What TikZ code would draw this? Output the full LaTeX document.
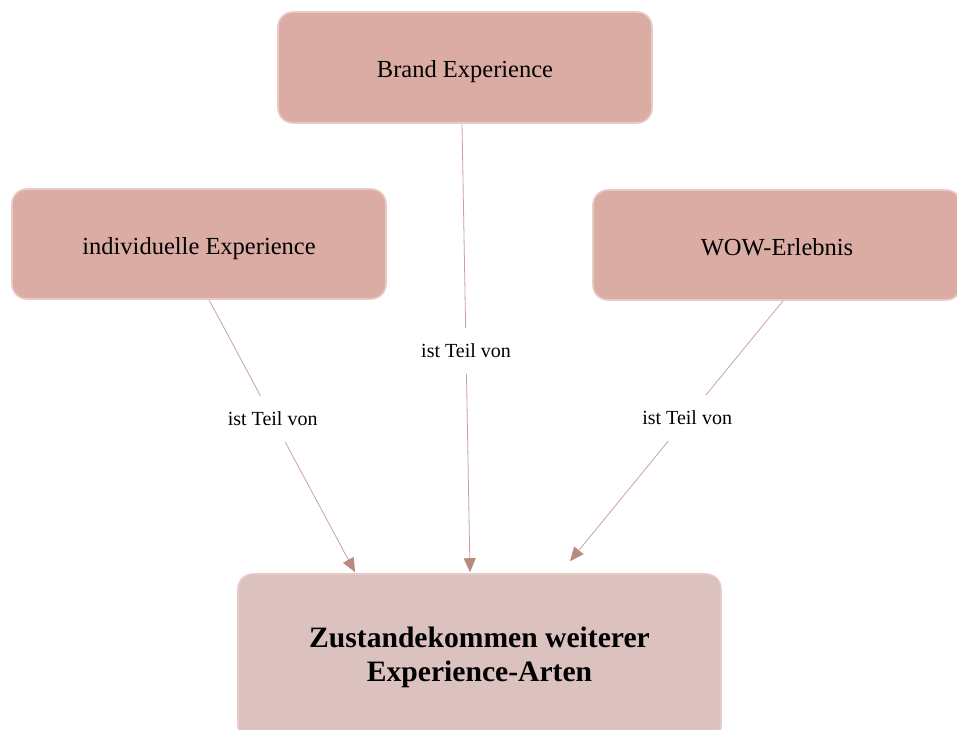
\documentclass[tikz,border=0pt]{standalone}
\usepackage{fontspec}
\setmainfont{Liberation Serif}
\usetikzlibrary{arrows.meta,positioning,calc}

\definecolor{boxfill}{HTML}{DBACA3}
\definecolor{resfill}{HTML}{DBC2BE}
\definecolor{boxedge}{HTML}{E6CBC6}
\definecolor{linkcol}{HTML}{C9A29B}
\definecolor{tipcol}{HTML}{B98A80}

\tikzset{
  concept/.style={draw=boxedge, line width=1.6pt, fill=boxfill, rounded corners=15pt,
    inner sep=0pt, align=center, text height=21pt, text depth=1pt,
    font=\fontsize{24.5}{29}\selectfont},
  result/.style={draw=boxedge, line width=1.6pt, fill=resfill, rounded corners=15pt,
    inner sep=0pt, align=center,
    font=\fontsize{29.6}{34}\selectfont\bfseries},
  link/.style={draw=linkcol, line width=0.8pt,
    -{Triangle[length=14pt,width=12pt,color=tipcol]}},
  linklabel/.style={fill=white, inner xsep=4pt, inner ysep=16pt,
    font=\fontsize{20}{24}\selectfont}
}

\begin{document}
\begin{tikzpicture}[x=1pt,y=-1pt]
  \useasboundingbox (0,0) rectangle (957,729);
  \clip (0,0) rectangle (957,729);

  % concept boxes
  \node[concept, minimum width=374pt, minimum height=111pt] (brand) at (465,67.5) {Brand Experience};
  \node[concept, minimum width=374pt, minimum height=110pt] (indiv) at (199,244) {individuelle Experience};
  \node[concept, minimum width=368pt, minimum height=110pt] (wow) at (777,245) {WOW-Erlebnis};
  \node[result, minimum width=483pt, minimum height=166pt] (result) at (479.5,657)
    {Zustandekommen weiterer\\Experience-Arten};

  % "ist Teil von" relations
  \draw[link] ([xshift=10pt]indiv.south) -- node[linklabel, pos=0.436] (l1) {ist Teil von}
    ([xshift=-124.5pt,yshift=1pt]result.north);
  \draw[link] ([xshift=-3pt]brand.south) -- node[linklabel, pos=0.506] (l2) {ist Teil von}
    ([xshift=-9.5pt,yshift=1pt]result.north);
  \draw[link] ([xshift=6pt]wow.south) -- node[linklabel, pos=0.45] (l3) {ist Teil von}
    ([xshift=90.5pt,yshift=12pt]result.north);
\end{tikzpicture}
\end{document}
